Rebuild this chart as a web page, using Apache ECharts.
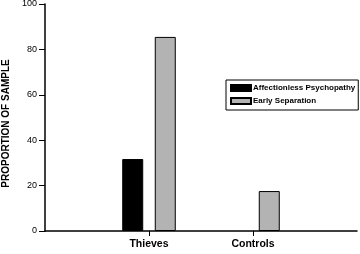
<!DOCTYPE html>
<html><head><meta charset="utf-8">
<script src="https://cdn.jsdelivr.net/npm/echarts@6/dist/echarts.min.js"></script>
<style>html,body{margin:0;padding:0;background:#fff}#c{width:360px;height:254px}</style>
</head><body><div id="c"></div>
<script>
const categories = ["", "Thieves", "Controls", ""];
const affectionless = ['-', 31.7, '-', '-'];
const earlySeparation = ['-', 85.5, 17.6, '-'];
const yTicks = [0, 20, 40, 60, 80, 100];
const seriesNames = ["Affectionless Psychopathy", "Early Separation"];

const F = "'Liberation Sans', Arial, sans-serif";
const chart = echarts.init(document.getElementById('c'), null, {renderer: 'canvas'});
chart.setOption({
  animation: false,
  grid: {left: 45, right: 3, top: 4, bottom: 23, containLabel: false, outerBoundsMode: 'none'},
  legend: {
    orient: 'vertical', left: 226, top: 80,
    data: seriesNames,
    itemWidth: 20, itemHeight: 6, itemGap: 5,
    padding: [4, 3, 5, 4],
    borderColor: '#000', borderWidth: 1,
    icon: 'rect',
    textStyle: {fontFamily: F, fontSize: 8, fontWeight: 'bold', color: '#000', padding: [0, 0, 0, -3]}
  },
  xAxis: {
    type: 'category', data: categories, boundaryGap: false,
    axisLine: {lineStyle: {color: '#000', width: 1.5}},
    axisTick: {show: true, length: 5, lineStyle: {color: '#000'}, interval: function (i) { return i === 1 || i === 2; }},
    axisLabel: {interval: 0, fontFamily: F, fontSize: 10.5, fontWeight: 'bold', color: '#000', margin: 8},
    splitLine: {show: false}
  },
  yAxis: {
    type: 'value', min: yTicks[0], max: yTicks[yTicks.length - 1], interval: 20,
    name: 'PROPORTION OF SAMPLE', nameLocation: 'middle', nameGap: 31, nameRotate: 90,
    nameTextStyle: {fontFamily: F, fontSize: 10, fontWeight: 'bold', color: '#000', padding: [0, 12, 0, 0]},
    axisLine: {show: true, lineStyle: {color: '#000', width: 1.5}},
    axisTick: {show: true, length: 6, lineStyle: {color: '#000'}},
    axisLabel: {fontFamily: F, fontSize: 9, color: '#000', margin: 8},
    splitLine: {show: false}
  },
  series: [
    {name: seriesNames[0], type: 'bar', data: affectionless, barWidth: 21, barGap: '55%',
     itemStyle: {color: '#000', borderColor: '#000', borderWidth: 1}},
    {name: seriesNames[1], type: 'bar', data: earlySeparation, barWidth: 21,
     itemStyle: {color: '#b3b3b3', borderColor: '#000', borderWidth: 1}}
  ]
});
</script></body></html>
